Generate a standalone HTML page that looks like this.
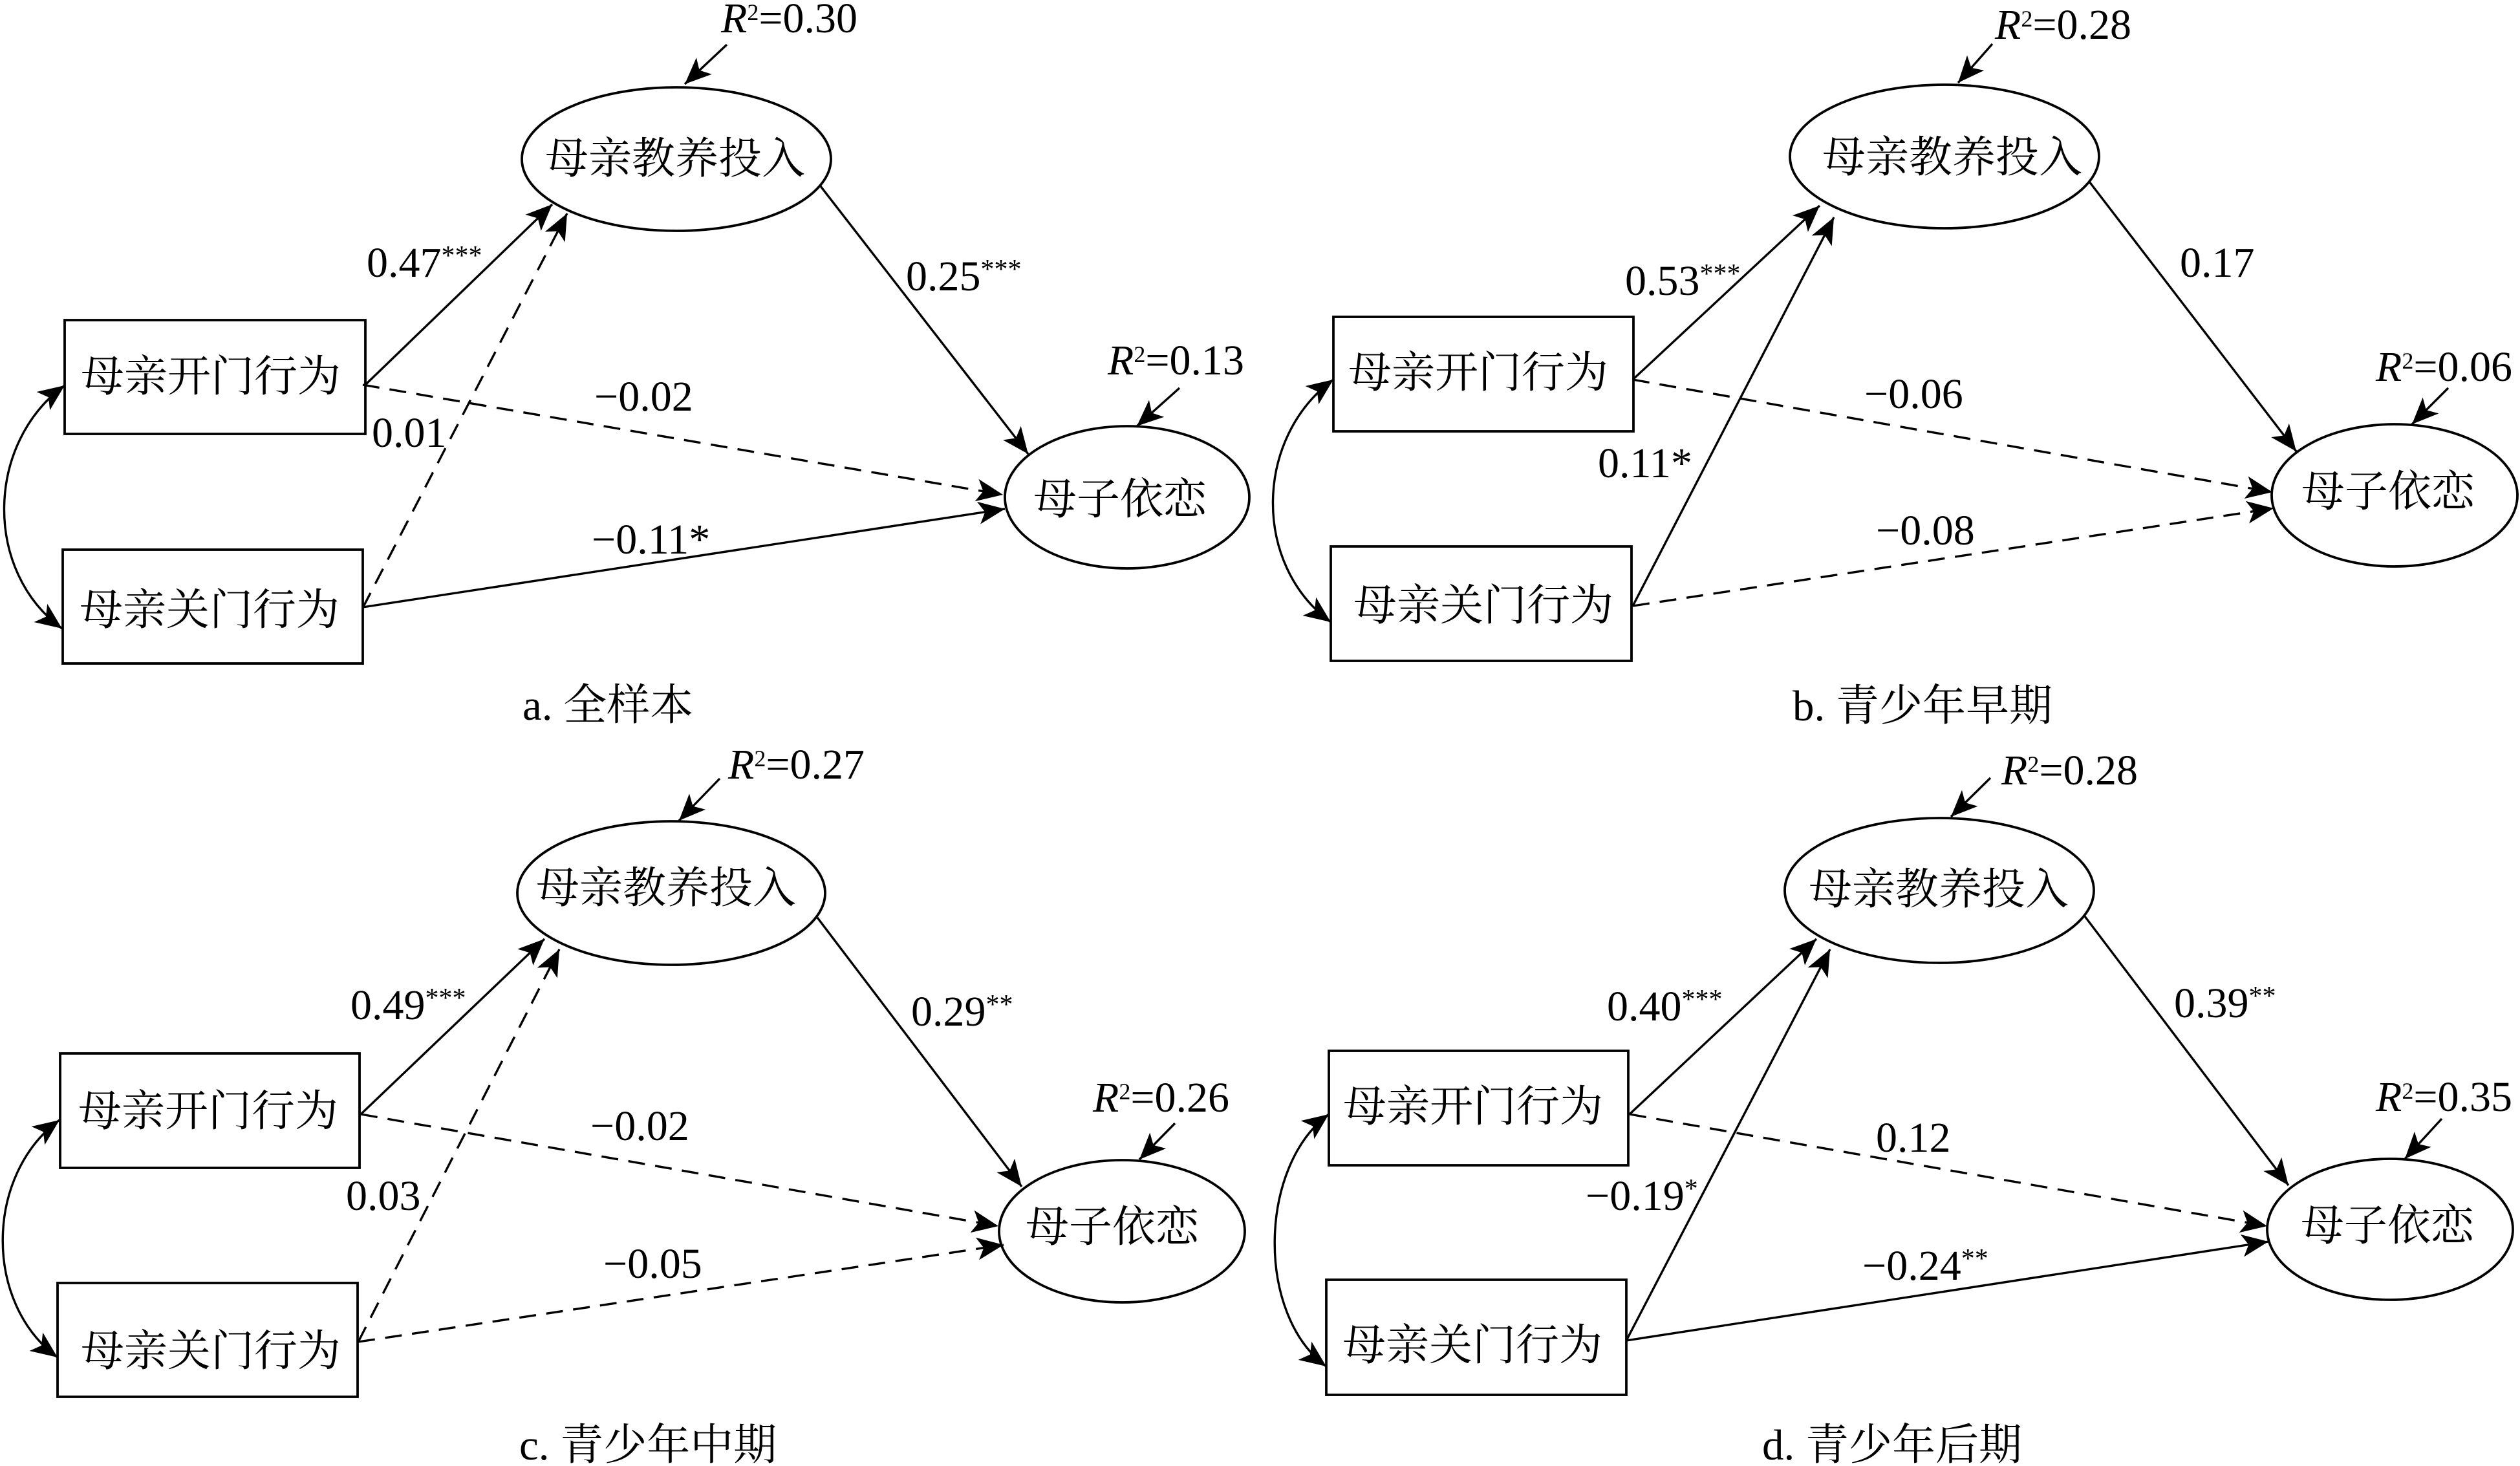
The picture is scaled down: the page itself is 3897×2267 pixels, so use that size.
<!DOCTYPE html>
<html>
<head>
<meta charset="utf-8">
<style>
html,body{margin:0;padding:0;background:#fff;}
svg{display:block;}
.c{font-family:"Liberation Serif","Noto Serif CJK SC",serif;font-size:67px;fill:#000;}
.n{font-family:"Liberation Serif",serif;font-size:66px;fill:#000;}
.bx{fill:none;stroke:#000;stroke-width:3.8;}
.s{stroke:#000;stroke-width:3.4;fill:none;}
.d{stroke:#000;stroke-width:3.4;fill:none;stroke-dasharray:26 16;}
</style>
</head>
<body>
<svg width="3897" height="2267" viewBox="0 0 3897 2267" xmlns="http://www.w3.org/2000/svg">
<defs>
<marker id="ah" viewBox="-44 -19 46 38" markerWidth="46" markerHeight="38" refX="0" refY="0" orient="auto" markerUnits="userSpaceOnUse">
<path d="M0,0 L-41,-17.5 L-31,0 L-41,17.5 Z" fill="#000"/>
</marker>
<marker id="ahs" viewBox="-44 -19 46 38" markerWidth="46" markerHeight="38" refX="0" refY="0" orient="auto-start-reverse" markerUnits="userSpaceOnUse">
<path d="M0,0 L-41,-17.5 L-31,0 L-41,17.5 Z" fill="#000"/>
</marker>
</defs>
<rect width="3897" height="2267" fill="#fff"/>

<!-- ================= Panel a ================= -->
<rect class="bx" x="100" y="495" width="465" height="176"/>
<rect class="bx" x="97" y="850" width="464" height="176"/>
<ellipse class="bx" cx="1046" cy="246" rx="239" ry="111"/>
<ellipse class="bx" cx="1743" cy="769" rx="189" ry="110"/>
<text class="c" x="326" y="605" text-anchor="middle">母亲开门行为</text>
<text class="c" x="324" y="966" text-anchor="middle">母亲关门行为</text>
<text class="c" x="1044" y="268" text-anchor="middle">母亲教养投入</text>
<text class="c" x="1732" y="795" text-anchor="middle">母子依恋</text>

<line class="s" x1="565" y1="595" x2="854" y2="316" marker-end="url(#ah)"/>
<line class="d" x1="561" y1="940" x2="877" y2="330" marker-end="url(#ah)"/>
<line class="d" x1="561" y1="595" x2="1551" y2="765" marker-end="url(#ah)"/>
<line class="s" x1="561" y1="939" x2="1554" y2="787" marker-end="url(#ah)"/>
<line class="s" x1="1269" y1="288" x2="1590" y2="702" marker-end="url(#ah)"/>
<line class="s" x1="1124" y1="69" x2="1059" y2="130" marker-end="url(#ah)"/>
<line class="s" x1="1824" y1="600" x2="1758" y2="659" marker-end="url(#ah)"/>
<path class="s" d="M100,596 C-22,685 -26,883 96,972" marker-start="url(#ahs)" marker-end="url(#ah)"/>

<text class="n" x="1115" y="50"><tspan font-style="italic">R</tspan><tspan font-size="36" dy="-19">2</tspan><tspan dy="19">=0.30</tspan></text>
<text class="n" x="1713" y="579"><tspan font-style="italic">R</tspan><tspan font-size="36" dy="-19">2</tspan><tspan dy="19">=0.13</tspan></text>
<text class="n" x="567" y="428">0.47<tspan font-size="42" dy="-19">***</tspan></text>
<text class="n" x="1401" y="449">0.25<tspan font-size="42" dy="-19">***</tspan></text>
<text class="n" x="919" y="635">−0.02</text>
<text class="n" x="575" y="691">0.01</text>
<text class="n" x="915" y="856">−0.11*</text>
<text class="c" x="808" y="1113">a. 全样本</text>

<!-- ================= Panel b ================= -->
<rect class="bx" x="2062" y="490" width="464" height="177"/>
<rect class="bx" x="2058" y="845" width="465" height="177"/>
<ellipse class="bx" cx="3007" cy="242" rx="239" ry="111"/>
<ellipse class="bx" cx="3703" cy="766" rx="190" ry="110"/>
<text class="c" x="2286" y="599" text-anchor="middle">母亲开门行为</text>
<text class="c" x="2294" y="959" text-anchor="middle">母亲关门行为</text>
<text class="c" x="3019" y="266" text-anchor="middle">母亲教养投入</text>
<text class="c" x="3693" y="783" text-anchor="middle">母子依恋</text>

<line class="s" x1="2525" y1="587" x2="2814" y2="318" marker-end="url(#ah)"/>
<line class="s" x1="2525" y1="937" x2="2836" y2="336" marker-end="url(#ah)"/>
<line class="d" x1="2525" y1="587" x2="3514" y2="761" marker-end="url(#ah)"/>
<line class="d" x1="2525" y1="937" x2="3516" y2="786" marker-end="url(#ah)"/>
<line class="s" x1="3231" y1="281" x2="3551" y2="698" marker-end="url(#ah)"/>
<line class="s" x1="3081" y1="68" x2="3028" y2="128" marker-end="url(#ah)"/>
<line class="s" x1="3786" y1="600" x2="3730" y2="656" marker-end="url(#ah)"/>
<path class="s" d="M2062,587 C1940,676 1936,873 2058,962" marker-start="url(#ahs)" marker-end="url(#ah)"/>

<text class="n" x="3085" y="60"><tspan font-style="italic">R</tspan><tspan font-size="36" dy="-19">2</tspan><tspan dy="19">=0.28</tspan></text>
<text class="n" x="3674" y="589"><tspan font-style="italic">R</tspan><tspan font-size="36" dy="-19">2</tspan><tspan dy="19">=0.06</tspan></text>
<text class="n" x="2513" y="456">0.53<tspan font-size="42" dy="-19">***</tspan></text>
<text class="n" x="3371" y="428">0.17</text>
<text class="n" x="2883" y="631">−0.06</text>
<text class="n" x="2471" y="738">0.11*</text>
<text class="n" x="2901" y="842">−0.08</text>
<text class="c" x="2772" y="1114">b. 青少年早期</text>

<!-- ================= Panel c ================= -->
<rect class="bx" x="93" y="1629" width="463" height="177"/>
<rect class="bx" x="89" y="1984" width="464" height="176"/>
<ellipse class="bx" cx="1038" cy="1381" rx="238" ry="111"/>
<ellipse class="bx" cx="1735" cy="1904" rx="190" ry="110"/>
<text class="c" x="322" y="1741" text-anchor="middle">母亲开门行为</text>
<text class="c" x="326" y="2112" text-anchor="middle">母亲关门行为</text>
<text class="c" x="1030" y="1396" text-anchor="middle">母亲教养投入</text>
<text class="c" x="1720" y="1920" text-anchor="middle">母子依恋</text>

<line class="s" x1="558" y1="1723" x2="842" y2="1452" marker-end="url(#ah)"/>
<line class="d" x1="554" y1="2075" x2="865" y2="1468" marker-end="url(#ah)"/>
<line class="d" x1="558" y1="1723" x2="1544" y2="1896" marker-end="url(#ah)"/>
<line class="d" x1="554" y1="2075" x2="1552" y2="1925" marker-end="url(#ah)"/>
<line class="s" x1="1264" y1="1419" x2="1580" y2="1835" marker-end="url(#ah)"/>
<line class="s" x1="1113" y1="1204" x2="1050" y2="1269" marker-end="url(#ah)"/>
<line class="s" x1="1817" y1="1737" x2="1762" y2="1793" marker-end="url(#ah)"/>
<path class="s" d="M92,1732 C-23,1816 -26,2015 89,2099" marker-start="url(#ahs)" marker-end="url(#ah)"/>

<text class="n" x="1126" y="1204"><tspan font-style="italic">R</tspan><tspan font-size="36" dy="-19">2</tspan><tspan dy="19">=0.27</tspan></text>
<text class="n" x="1690" y="1719"><tspan font-style="italic">R</tspan><tspan font-size="36" dy="-19">2</tspan><tspan dy="19">=0.26</tspan></text>
<text class="n" x="542" y="1576">0.49<tspan font-size="42" dy="-19">***</tspan></text>
<text class="n" x="1409" y="1586">0.29<tspan font-size="42" dy="-19">**</tspan></text>
<text class="n" x="913" y="1763">−0.02</text>
<text class="n" x="535" y="1871">0.03</text>
<text class="n" x="933" y="1976">−0.05</text>
<text class="c" x="803" y="2257">c. 青少年中期</text>

<!-- ================= Panel d ================= -->
<rect class="bx" x="2055" y="1625" width="463" height="177"/>
<rect class="bx" x="2051" y="1979" width="464" height="178"/>
<ellipse class="bx" cx="2999" cy="1377" rx="239" ry="112"/>
<ellipse class="bx" cx="3696" cy="1901" rx="190" ry="109"/>
<text class="c" x="2278" y="1734" text-anchor="middle">母亲开门行为</text>
<text class="c" x="2277" y="2103" text-anchor="middle">母亲关门行为</text>
<text class="c" x="2998" y="1398" text-anchor="middle">母亲教养投入</text>
<text class="c" x="3692" y="1918" text-anchor="middle">母子依恋</text>

<line class="s" x1="2520" y1="1723" x2="2809" y2="1452" marker-end="url(#ah)"/>
<line class="s" x1="2515" y1="2073" x2="2830" y2="1468" marker-end="url(#ah)"/>
<line class="d" x1="2520" y1="1723" x2="3506" y2="1896" marker-end="url(#ah)"/>
<line class="s" x1="2515" y1="2073" x2="3508" y2="1920" marker-end="url(#ah)"/>
<line class="s" x1="3224" y1="1417" x2="3539" y2="1833" marker-end="url(#ah)"/>
<line class="s" x1="3078" y1="1203" x2="3017" y2="1263" marker-end="url(#ah)"/>
<line class="s" x1="3776" y1="1730" x2="3719" y2="1792" marker-end="url(#ah)"/>
<path class="s" d="M2055,1723 C1946,1803 1942,2033 2051,2113" marker-start="url(#ahs)" marker-end="url(#ah)"/>

<text class="n" x="3095" y="1213"><tspan font-style="italic">R</tspan><tspan font-size="36" dy="-19">2</tspan><tspan dy="19">=0.28</tspan></text>
<text class="n" x="3674" y="1718"><tspan font-style="italic">R</tspan><tspan font-size="36" dy="-19">2</tspan><tspan dy="19">=0.35</tspan></text>
<text class="n" x="2485" y="1578">0.40<tspan font-size="42" dy="-19">***</tspan></text>
<text class="n" x="3362" y="1573">0.39<tspan font-size="42" dy="-19">**</tspan></text>
<text class="n" x="2901" y="1781">0.12</text>
<text class="n" x="2452" y="1871">−0.19<tspan font-size="42" dy="-19">*</tspan></text>
<text class="n" x="2880" y="1979">−0.24<tspan font-size="42" dy="-19">**</tspan></text>
<text class="c" x="2725" y="2257">d. 青少年后期</text>
</svg>
</body>
</html>
